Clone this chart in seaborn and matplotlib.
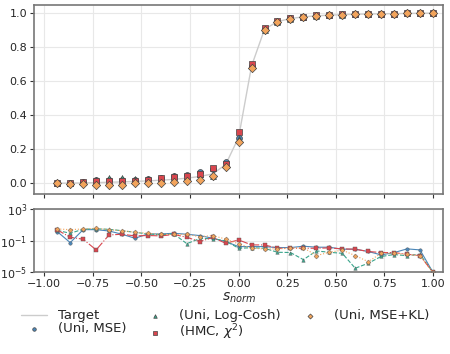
import numpy as np
import pandas as pd
import matplotlib
matplotlib.use("Agg")
import matplotlib.pyplot as plt
import seaborn as sns

sns.set_style("white")
plt.rcParams['font.family'] = ['DejaVu Sans']

x_vals = [(-14 + k) / 15 for k in range(30)]

target = [0.000, 0.001, 0.002, 0.004, 0.006, 0.008, 0.011, 0.014, 0.018, 0.023,
          0.030, 0.040, 0.055, 0.110, 0.270, 0.690, 0.905, 0.950, 0.968, 0.978,
          0.984, 0.988, 0.991, 0.993, 0.995, 0.996, 0.997, 0.998, 0.999, 1.000]
uni_mse = [0.000, 0.001, 0.008, 0.018, 0.022, 0.020, 0.022, 0.025, 0.030, 0.045,
           0.050, 0.068, 0.085, 0.127, 0.265, 0.690, 0.905, 0.950, 0.970, 0.978,
           0.984, 0.988, 0.991, 0.993, 0.995, 0.996, 0.997, 0.998, 0.999, 1.000]
uni_logcosh = [0.000, 0.002, 0.010, 0.020, 0.030, 0.030, 0.028, 0.025, 0.030, 0.040,
               0.045, 0.055, 0.040, 0.110, 0.260, 0.690, 0.900, 0.945, 0.965, 0.976,
               0.983, 0.987, 0.990, 0.993, 0.995, 0.996, 0.997, 0.998, 0.999, 1.000]
hmc_chi2 = [0.000, 0.000, 0.005, 0.012, 0.012, 0.012, 0.015, 0.022, 0.030, 0.037,
            0.045, 0.053, 0.088, 0.115, 0.300, 0.700, 0.915, 0.955, 0.970, 0.980,
            0.990, 0.990, 0.992, 0.994, 0.995, 0.996, 0.997, 0.998, 0.999, 1.000]
uni_msekl = [0.000, -0.002, -0.005, -0.010, -0.010, -0.008, 0.000, 0.000, 0.002, 0.010,
             0.012, 0.020, 0.040, 0.094, 0.245, 0.680, 0.900, 0.950, 0.968, 0.978,
             0.984, 0.988, 0.991, 0.993, 0.995, 0.996, 0.997, 0.998, 0.999, 1.000]

# log10 of errors (lower panel)
err_uni_mse = [0.14, -1.25, 0.39, 0.39, 0.22, -0.19, -0.70, -0.15, -0.15, -0.07,
               -0.19, -0.36, -0.70, -1.12, -1.75, -1.75, -1.75, -1.88, -1.88, -1.70,
               -1.83, -1.83, -2.08, -2.08, -2.37, -2.80, -2.51, -2.04, -2.17, -5.0]
err_uni_logcosh = [0.30, -0.07, 0.45, 0.50, 0.43, 0.26, 0.05, -0.15, -0.27, -0.15,
                   -1.38, -0.74, -0.74, -1.04, -1.96, -1.90, -1.96, -2.47, -2.50, -3.40,
                   -2.30, -2.47, -2.60, -4.49, -3.86, -3.00, -2.76, -2.90, -2.72, -5.0]
err_hmc_chi2 = [0.35, -0.57, -0.82, -2.17, -0.28, -0.19, -0.40, -0.35, -0.40, -0.22,
                -0.57, -1.12, -0.60, -1.33, -0.91, -1.54, -1.54, -1.96, -1.96, -1.96,
                -1.96, -1.92, -2.04, -2.08, -2.37, -2.50, -2.51, -2.72, -2.89, -5.0]
err_uni_msekl = [0.48, 0.39, 0.48, 0.56, 0.39, 0.26, 0.05, -0.07, -0.19, -0.22,
                 -0.22, -0.50, -0.36, -0.80, -1.41, -1.96, -2.04, -2.04, -1.96, -1.88,
                 -2.89, -2.47, -2.20, -2.89, -3.65, -2.60, -2.60, -2.72, -2.93, -5.0]

labels = ["(Uni, MSE)", "(Uni, Log-Cosh)", r"(HMC, $\chi^2$)", "(Uni, MSE+KL)"]
colors = ["#4a86b8", "#3aa58c", "#d9464e", "#f2a45c"]
markers = ["o", "^", "s", "D"]
lstyles = ["-", "--", "-.", ":"]
tops = [uni_mse, uni_logcosh, hmc_chi2, uni_msekl]
errs = [err_uni_mse, err_uni_logcosh, err_hmc_chi2, err_uni_msekl]

fig = plt.figure(figsize=(4.5, 3.54), dpi=100)
ax1 = fig.add_axes([0.076, 0.452, 0.909, 0.535])
ax2 = fig.add_axes([0.076, 0.2308, 0.909, 0.1788], sharex=ax1)

sns.lineplot(x=x_vals, y=target, ax=ax1, color="#cccccc", lw=1.0, label="Target", zorder=1)
for lab, c, m, vals in zip(labels, colors, markers, tops):
    sns.scatterplot(x=x_vals, y=vals, ax=ax1, color=c, marker=m, s=18,
                    edgecolor="#444444", linewidth=0.5, label=lab, zorder=3)

for lab, c, m, ls, e in zip(labels, colors, markers, lstyles, errs):
    df = pd.DataFrame({"x": x_vals, "err": np.power(10.0, e)})
    sns.lineplot(data=df, x="x", y="err", ax=ax2, color=c, ls=ls, lw=0.8,
                 marker=m, markersize=2.5, markeredgecolor="#555555", markeredgewidth=0.3)

ax2.set_yscale("log")
ax2.set_ylim(1e-5, 1e3)
ax2.set_yticks([1e-5, 1e-1, 1e3])
ax2.minorticks_off()
ax1.set_xlim(-1.052, 1.053)
ax1.set_ylim(-0.063, 1.05)
ax1.set_yticks([0.0, 0.2, 0.4, 0.6, 0.8, 1.0])
ax2.set_xticks([-1.0, -0.75, -0.5, -0.25, 0.0, 0.25, 0.5, 0.75, 1.0])
plt.setp(ax1.get_xticklabels(), visible=False)
ax1.set_xlabel("")
ax2.set_ylabel("")
ax1.set_ylabel("")
ax2.set_xlabel(r"$s_{norm}$", fontsize=10, labelpad=1)

for ax in (ax1, ax2):
    ax.grid(True, color="#e8e8e8", lw=0.8)
    ax.set_axisbelow(True)
    ax.tick_params(axis="both", labelsize=8, length=3, width=0.8, color="#333333",
                   left=True, bottom=True, pad=2)
    for sp in ax.spines.values():
        sp.set_color("#777777")
        sp.set_linewidth(1.2)

handles, labs = ax1.get_legend_handles_labels()
ax1.get_legend().remove()
leg = fig.legend(handles, labs, loc="upper center", bbox_to_anchor=(0.5, 0.145),
                 ncol=3, frameon=False, fontsize=9.5, markerscale=0.6,
                 labelspacing=0.0, columnspacing=1.2, handlelength=2.0,
                 handletextpad=0.8, borderpad=0.0)

fig.savefig("out.png", dpi=100)
